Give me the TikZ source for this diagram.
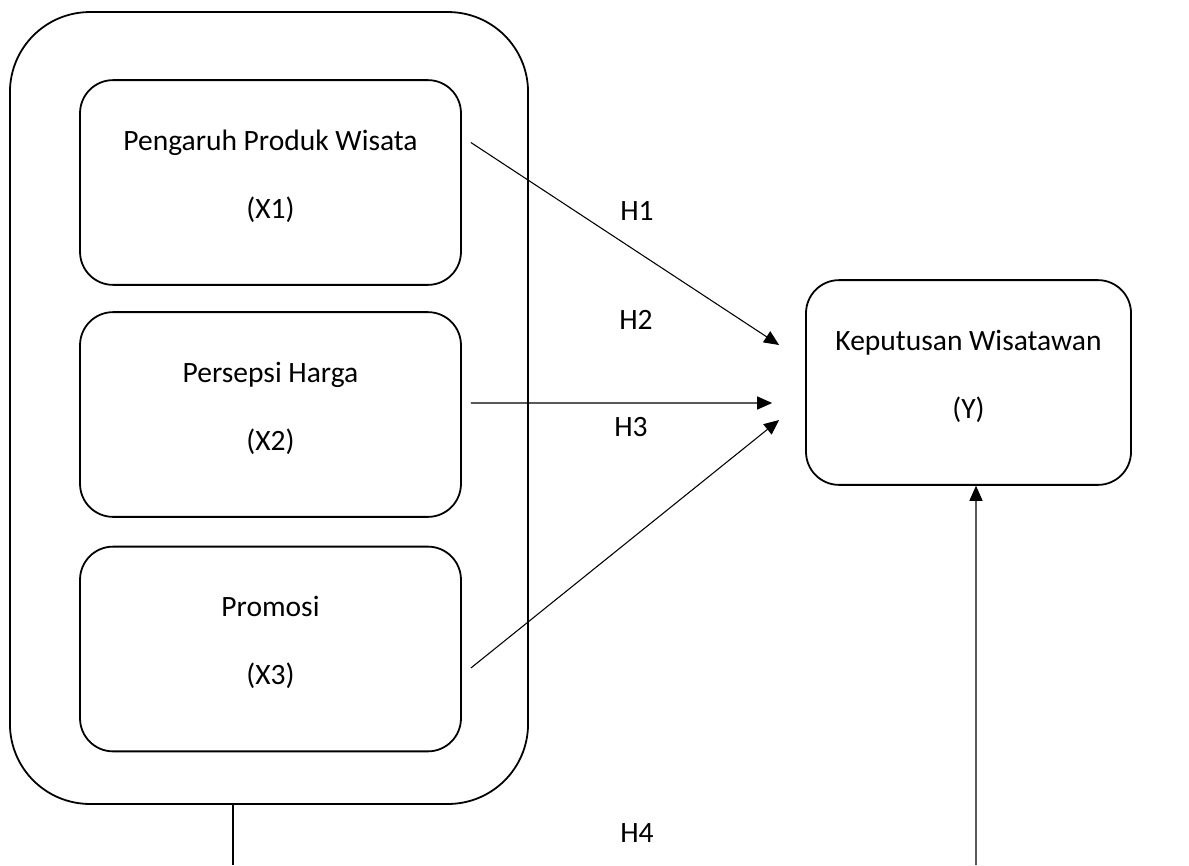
\documentclass[tikz,border=0pt]{standalone}
\usepackage{fontspec}
\setmainfont{Carlito}
\usepackage{tikz}
\usetikzlibrary{arrows.meta,positioning,calc}

\begin{document}
\begin{tikzpicture}[x=0.42pt, y=-0.42pt, font=\fontsize{12.4}{28.6}\selectfont]
    \tikzstyle{box}=[draw, line width=0.75pt, rounded corners=13.9pt, minimum width=160pt, minimum height=86pt, align=center, text depth=7pt]
    \tikzstyle{link}=[line width=0.45pt, -{Triangle[length=6.3pt, width=5.5pt]}]
    \useasboundingbox (0,0) rectangle (1189,865);
    % Outer group of independent variables
    \node[draw, line width=0.75pt, rounded corners=33.6pt, minimum width=217.6pt, minimum height=332.6pt] (grp) at (269,408) {};
    \node[box] (x1) at (270.5,182.5) {Pengaruh Produk Wisata\\(X1)};
    \node[box] (x2) at (270.5,414.5) {Persepsi Harga\\(X2)};
    \node[box] (x3) at (270.5,649) {Promosi\\(X3)};
    % Dependent variable
    \node[box, minimum width=136.5pt] (y) at (968.5,382.5) {Keputusan Wisatawan\\(Y)};
    % Hypotheses
    \draw[link] ($(x1.east)+(9,-40)$) -- ($(y.west)+(-26,-37.5)$);
    \draw[link] ($(x2.east)+(9,-11.5)$) -- ($(y.west)+(-33,20.5)$);
    \draw[link] ($(x3.east)+(9,19)$) -- ($(y.west)+(-26,37.5)$);
    \node (h1) at (637,211) {H1};
    \node (h2) at (636,320) {H2};
    \node (h3) at (631,427) {H3};
    % Simultaneous effect
    \coordinate (bl) at (233,865);
    \coordinate (br) at (976,865);
    \draw[line width=0.45pt] ($(grp.south)+(-36,0)$) -- (bl);
    \draw[link] (br) -- ($(y.south)+(7.5,0)$);
    \node (h4) at (637,833) {H4};
  \end{tikzpicture}
\end{document}
